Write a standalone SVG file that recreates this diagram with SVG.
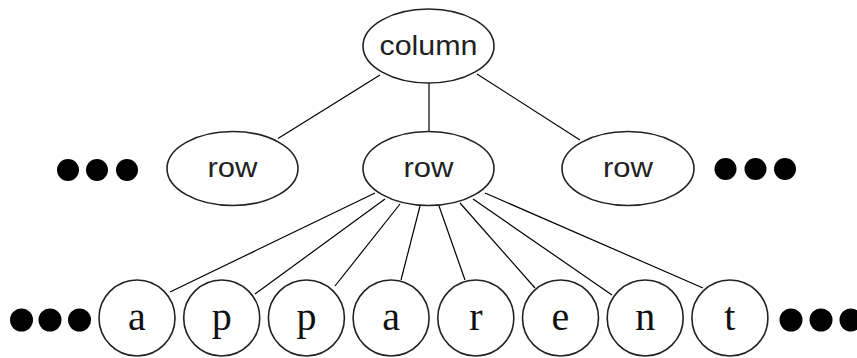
<svg xmlns="http://www.w3.org/2000/svg" width="857" height="358" viewBox="0 0 857 358">
<style>
.node{fill:#fff;stroke:#222;stroke-width:1.6}
.lbl{font-family:"Liberation Sans",Arial,sans-serif;font-size:28px;fill:#222;text-anchor:middle}
.ch{font-family:"Liberation Serif","Times New Roman",serif;font-size:40px;fill:#111;text-anchor:middle}
.edge{stroke:#000;stroke-width:1.2;fill:none}
.dot{fill:#000}
</style>
<rect width="857" height="358" fill="#fff"/>
<g id="connectors">
<line class="edge" x1="380" y1="75" x2="278" y2="138.5"/>
<line class="edge" x1="429" y1="83" x2="429" y2="131"/>
<line class="edge" x1="477" y1="74" x2="580" y2="140"/>
<line class="edge" x1="375" y1="193" x2="170" y2="292"/>
<line class="edge" x1="385" y1="199" x2="255" y2="294"/>
<line class="edge" x1="400" y1="204" x2="335" y2="286"/>
<line class="edge" x1="420" y1="206" x2="401" y2="280"/>
<line class="edge" x1="439" y1="206" x2="465" y2="280"/>
<line class="edge" x1="460" y1="203" x2="535" y2="288"/>
<line class="edge" x1="473" y1="199" x2="612" y2="295"/>
<line class="edge" x1="485" y1="193" x2="703" y2="288"/>
</g>
<g id="column"><ellipse class="node" cx="428.5" cy="46" rx="65.5" ry="37"/><text class="lbl" x="428.5" y="55" textLength="98" lengthAdjust="spacingAndGlyphs">column</text></g>
<g id="row-left"><ellipse class="node" cx="232.5" cy="168.5" rx="65.5" ry="37"/><text class="lbl" x="232.5" y="177" textLength="50" lengthAdjust="spacingAndGlyphs">row</text></g>
<g id="row-mid"><ellipse class="node" cx="428.5" cy="168.5" rx="65.5" ry="37"/><text class="lbl" x="428.5" y="177" textLength="50" lengthAdjust="spacingAndGlyphs">row</text></g>
<g id="row-right"><ellipse class="node" cx="628" cy="168.5" rx="66" ry="37"/><text class="lbl" x="628" y="177" textLength="50" lengthAdjust="spacingAndGlyphs">row</text></g>
<g id="dots-row-left"><circle class="dot" cx="68" cy="170" r="11"/><circle class="dot" cx="97" cy="170" r="11"/><circle class="dot" cx="127" cy="170" r="11"/></g>
<g id="dots-row-right"><circle class="dot" cx="725.5" cy="169" r="11"/><circle class="dot" cx="755.5" cy="169" r="11"/><circle class="dot" cx="785" cy="169" r="11"/></g>
<g id="c1"><circle class="node" cx="137" cy="318" r="38"/><text class="ch" x="137" y="330">a</text></g>
<g id="c2"><circle class="node" cx="221.7" cy="318" r="38"/><text class="ch" x="221.7" y="330">p</text></g>
<g id="c3"><circle class="node" cx="306.4" cy="318" r="38"/><text class="ch" x="306.4" y="330">p</text></g>
<g id="c4"><circle class="node" cx="391.1" cy="318" r="38"/><text class="ch" x="391.1" y="330">a</text></g>
<g id="c5"><circle class="node" cx="475.8" cy="318" r="38"/><text class="ch" x="475.8" y="330">r</text></g>
<g id="c6"><circle class="node" cx="560.5" cy="318" r="38"/><text class="ch" x="560.5" y="330">e</text></g>
<g id="c7"><circle class="node" cx="645.2" cy="318" r="38"/><text class="ch" x="645.2" y="330">n</text></g>
<g id="c8"><circle class="node" cx="729.9" cy="318" r="38"/><text class="ch" x="729.9" y="330">t</text></g>
<g id="dots-bottom-left"><circle class="dot" cx="21.5" cy="320" r="11.5"/><circle class="dot" cx="50" cy="320" r="11.5"/><circle class="dot" cx="79.5" cy="320" r="11.5"/></g>
<g id="dots-bottom-right"><circle class="dot" cx="791" cy="320" r="11.5"/><circle class="dot" cx="821" cy="320" r="11.5"/><circle class="dot" cx="851" cy="320" r="11.5"/></g>
</svg>
